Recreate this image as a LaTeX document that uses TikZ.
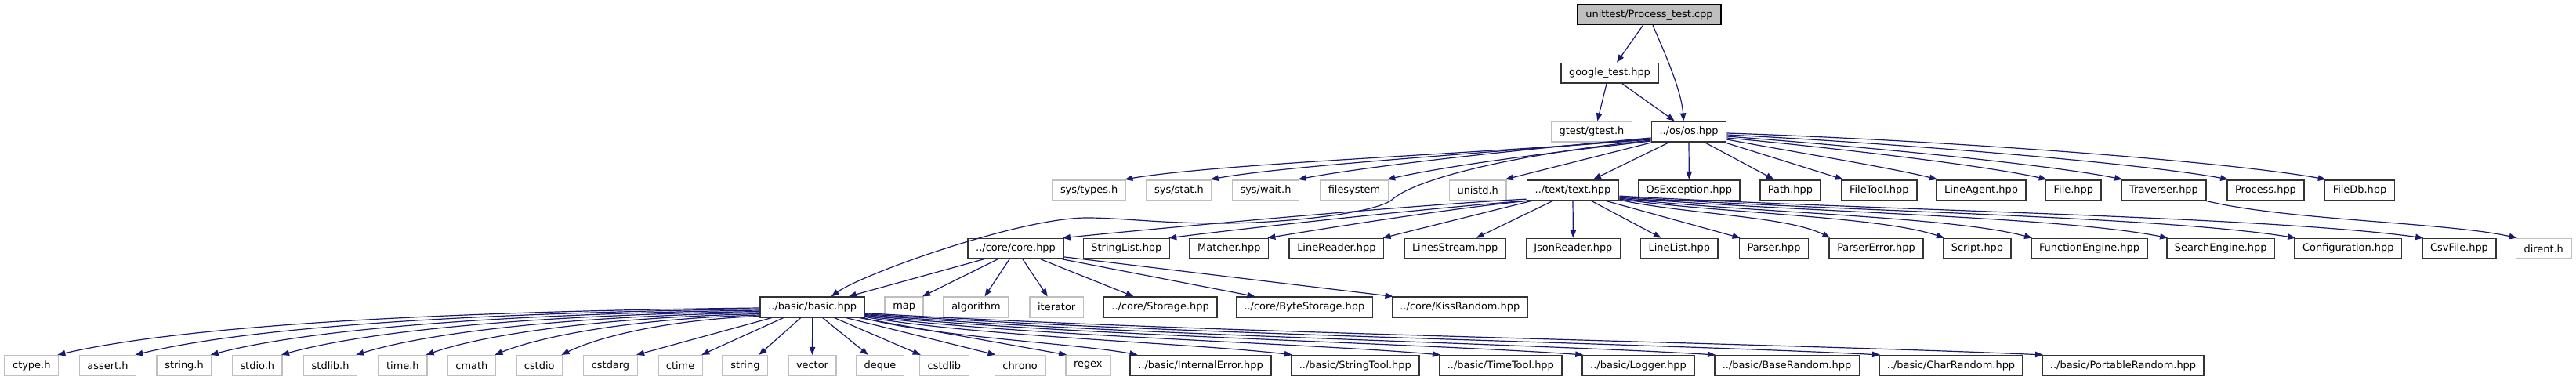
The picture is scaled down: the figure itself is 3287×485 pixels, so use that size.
\documentclass[tikz,border=0pt]{standalone}
\usepackage{fontspec}
\setmainfont{DejaVu Sans}
\usetikzlibrary{arrows.meta}
\definecolor{edgecol}{HTML}{191970}
\definecolor{docb}{HTML}{333333}
\definecolor{undocb}{HTML}{BFBFBF}
\definecolor{rootfill}{HTML}{BFBFBF}
\newcommand{\nd}[5]{\node[#1] (#2) at (#3,#4) {#5};}
\begin{document}
\begin{tikzpicture}[x=0.75pt,y=-0.75pt,
  nbase/.style={font=\fontsize{9.7pt}{11.6pt}\selectfont, inner xsep=7.6pt, inner ysep=0pt, minimum height=19.2pt, line width=1.2pt, text=black},
  doc/.style={nbase, draw=docb, fill=white},
  sys/.style={nbase, draw=undocb, fill=white},
  rootn/.style={nbase, draw=black, fill=rootfill},
  dep/.style={draw=edgecol, line width=0.9pt, -{Triangle[length=7.5pt,width=5.6pt]}}]
\useasboundingbox (0,0) rectangle (3287,485);
% row 0-2
\nd{rootn}{root}{2104.5}{18.7}{unittest/Process\_test.cpp}
\nd{doc}{google}{2054}{93.3}{google\_test.hpp}
\nd{sys}{gtest}{2031}{168}{gtest/gtest.h}
\nd{doc}{os}{2155}{168}{../os/os.hpp}
% row 3
\nd{sys}{systypes}{1389.7}{242.5}{sys/types.h}
\nd{sys}{sysstat}{1504.5}{242.5}{sys/stat.h}
\nd{sys}{syswait}{1615}{242.5}{sys/wait.h}
\nd{sys}{filesys}{1728}{242.5}{filesystem}
\nd{sys}{unistd}{1885.7}{242.5}{unistd.h}
\nd{doc}{text}{2007}{242.5}{../text/text.hpp}
\nd{doc}{osexc}{2155.3}{242.5}{OsException.hpp}
\nd{doc}{path}{2284.5}{242.5}{Path.hpp}
\nd{doc}{filetool}{2397.8}{242.5}{FileTool.hpp}
\nd{doc}{lineagent}{2528}{242.5}{LineAgent.hpp}
\nd{doc}{file}{2645.8}{242.5}{File.hpp}
\nd{doc}{traverser}{2761}{242.5}{Traverser.hpp}
\nd{doc}{process}{2891}{242.5}{Process.hpp}
\nd{doc}{filedb}{3011}{242.5}{FileDb.hpp}
% row 4
\nd{doc}{core}{1296}{317.3}{../core/core.hpp}
\nd{doc}{stringlist}{1437.4}{317.3}{StringList.hpp}
\nd{doc}{matcher}{1568.3}{317.3}{Matcher.hpp}
\nd{doc}{linereader}{1705.4}{317.3}{LineReader.hpp}
\nd{doc}{linesstream}{1856.6}{317.3}{LinesStream.hpp}
\nd{doc}{json}{2007.4}{317.3}{JsonReader.hpp}
\nd{doc}{linelist}{2142.8}{317.3}{LineList.hpp}
\nd{doc}{parser}{2263.5}{317.3}{Parser.hpp}
\nd{doc}{parsererror}{2394}{317.3}{ParserError.hpp}
\nd{doc}{script}{2523}{317.3}{Script.hpp}
\nd{doc}{funceng}{2666}{317.3}{FunctionEngine.hpp}
\nd{doc}{searcheng}{2833.7}{317.3}{SearchEngine.hpp}
\nd{doc}{config}{2996.3}{317.3}{Configuration.hpp}
\nd{doc}{csvfile}{3138}{317.3}{CsvFile.hpp}
\nd{sys}{dirent}{3245.7}{317.3}{dirent.h}
% row 5
\nd{doc}{basic}{1036.7}{392}{../basic/basic.hpp}
\nd{sys}{map}{1153.7}{392}{map}
\nd{sys}{algorithm}{1245.5}{392}{algorithm}
\nd{sys}{iterator}{1348.2}{392}{iterator}
\nd{doc}{storage}{1480.6}{392}{../core/Storage.hpp}
\nd{doc}{bytestorage}{1664.4}{392}{../core/ByteStorage.hpp}
\nd{doc}{kissrandom}{1862.8}{392}{../core/KissRandom.hpp}
% row 6
\nd{sys}{ctype}{40.3}{466.5}{ctype.h}
\nd{sys}{assert}{137.5}{466.5}{assert.h}
\nd{sys}{stringh}{235}{466.5}{string.h}
\nd{sys}{stdio}{328.3}{466.5}{stdio.h}
\nd{sys}{stdlib}{421.6}{466.5}{stdlib.h}
\nd{sys}{timeh}{513.9}{466.5}{time.h}
\nd{sys}{cmath}{601.9}{466.5}{cmath}
\nd{sys}{cstdio}{688.2}{466.5}{cstdio}
\nd{sys}{cstdarg}{779}{466.5}{cstdarg}
\nd{sys}{ctime}{868.1}{466.5}{ctime}
\nd{sys}{string}{950.9}{466.5}{string}
\nd{sys}{vector}{1036.5}{466.5}{vector}
\nd{sys}{deque}{1123}{466.5}{deque}
\nd{sys}{cstdlib}{1204.9}{466.5}{cstdlib}
\nd{sys}{chrono}{1301.6}{466.5}{chrono}
\nd{sys}{regex}{1388.3}{466.5}{regex}
\nd{doc}{internalerror}{1532.1}{466.5}{../basic/InternalError.hpp}
\nd{doc}{stringtool}{1729.3}{466.5}{../basic/StringTool.hpp}
\nd{doc}{timetool}{1914.8}{466.5}{../basic/TimeTool.hpp}
\nd{doc}{logger}{2090.5}{466.5}{../basic/Logger.hpp}
\nd{doc}{baserandom}{2280}{466.5}{../basic/BaseRandom.hpp}
\nd{doc}{charrandom}{2489.5}{466.5}{../basic/CharRandom.hpp}
\nd{doc}{portable}{2709}{466.5}{../basic/PortableRandom.hpp}
% ---- edges: top
\draw[dep] ([shift={(-8,0)}]root.south) -- ([shift={(9,0)}]google.north);
\draw[dep] ([shift={(4.5,0)}]root.south) .. controls +(15,35) and +(-3,-40) .. ([shift={(-6.7,0)}]os.north);
\draw[dep] ([shift={(-4,0)}]google.south) -- ([shift={(7.3,0)}]gtest.north);
\draw[dep] ([shift={(16,0)}]google.south) -- ([shift={(-18.3,0)}]os.north);
% ---- os fan
\draw[dep] ([shift={(0,10)}]os.west) .. controls +(-250,20) and +(120,-20) .. ([shift={(-2,0)}]systypes.north east);
\draw[dep] ([shift={(0,9)}]os.west) .. controls +(-200,18) and +(100,-18) .. ([shift={(-2,0)}]sysstat.north east);
\draw[dep] ([shift={(0,8)}]os.west) .. controls +(-170,15) and +(90,-17) .. ([shift={(-2,0)}]syswait.north east);
\draw[dep] ([shift={(0,12)}]os.west) .. controls +(-130,15) and +(80,-18) .. ([shift={(-2,0)}]filesys.north east);
\draw[dep] ([shift={(2,0)}]os.south west) -- ([shift={(-2,0)}]unistd.north east);
\draw[dep] ([shift={(0,11)}]os.west) .. controls (1950,195) and (1810,225) .. (1776,255)
  .. controls (1755,272) and (1640,285) .. (1557,285)
  .. controls (1480,285) and (1430,278) .. (1387,278)
  .. controls (1300,278) and (1100,350) .. ([shift={(24,0)}]basic.north);
\draw[dep] ([shift={(-25,0)}]os.south) -- ([shift={(26,0)}]text.north);
\draw[dep] (os.south) -- (osexc.north);
\draw[dep] ([shift={(20,0)}]os.south) -- ([shift={(-21,0)}]path.north);
\draw[dep] ([shift={(45,0)}]os.south) -- ([shift={(-46,0)}]filetool.north);
\draw[dep] ([shift={(0,10)}]os.east) .. controls +(80,15) and +(-60,-15) .. ([shift={(2,0)}]lineagent.north west);
\draw[dep] ([shift={(0,8)}]os.east) .. controls +(130,12) and +(-80,-18) .. ([shift={(2,0)}]file.north west);
\draw[dep] ([shift={(0,6)}]os.east) .. controls +(160,12) and +(-100,-20) .. ([shift={(2,0)}]traverser.north west);
\draw[dep] ([shift={(0,4)}]os.east) .. controls +(200,10) and +(-120,-22) .. ([shift={(2,0)}]process.north west);
\draw[dep] ([shift={(0,2)}]os.east) .. controls +(250,8) and +(-140,-25) .. ([shift={(2,0)}]filedb.north west);
\draw[dep] ([shift={(-2,0)}]traverser.south east) .. controls +(100,25) and +(-90,-20) .. ([shift={(2,0)}]dirent.north west);
% ---- text fan
\draw[dep] ([shift={(0,-2)}]text.south west) .. controls +(-150,8) and +(150,-15) .. ([shift={(-2,0)}]core.north east);
\draw[dep] ([shift={(2,0)}]text.south west) .. controls +(-130,10) and +(120,-15) .. ([shift={(-2,0)}]stringlist.north east);
\draw[dep] ([shift={(4,0)}]text.south west) .. controls +(-100,10) and +(90,-15) .. ([shift={(-2,0)}]matcher.north east);
\draw[dep] ([shift={(8,0)}]text.south west) -- ([shift={(-2,0)}]linereader.north east);
\draw[dep] ([shift={(-25,0)}]text.south) -- ([shift={(27,0)}]linesstream.north);
\draw[dep] (text.south) -- (json.north);
\draw[dep] ([shift={(23,0)}]text.south) -- ([shift={(-23,0)}]linelist.north);
\draw[dep] ([shift={(41,0)}]text.south) -- ([shift={(2,0)}]parser.north west);
\draw[dep] ([shift={(0,-1)}]text.south east) .. controls +(81,18) and +(-54,-28) .. ([shift={(2,0)}]parsererror.north west);
\draw[dep] ([shift={(0,-2)}]text.south east) .. controls +(125,18) and +(-83,-28) .. ([shift={(2,0)}]script.north west);
\draw[dep] ([shift={(0,-3)}]text.south east) .. controls +(158,18) and +(-106,-28) .. ([shift={(2,0)}]funceng.north west);
\draw[dep] ([shift={(0,-4)}]text.south east) .. controls +(210,18) and +(-140,-28) .. ([shift={(2,0)}]searcheng.north west);
\draw[dep] ([shift={(0,-5)}]text.south east) .. controls +(259,18) and +(-173,-28) .. ([shift={(2,0)}]config.north west);
\draw[dep] ([shift={(0,-6)}]text.south east) .. controls +(308,18) and +(-205,-28) .. ([shift={(2,0)}]csvfile.north west);
% ---- core fan
\draw[dep] ([shift={(-41,0)}]core.south) -- ([shift={(46,0)}]basic.north);
\draw[dep] ([shift={(-23,0)}]core.south) -- ([shift={(-2,0)}]map.north east);
\draw[dep] ([shift={(-8,0)}]core.south) -- ([shift={(11,0)}]algorithm.north);
\draw[dep] ([shift={(9,0)}]core.south) -- ([shift={(-11.5,0)}]iterator.north);
\draw[dep] ([shift={(32,0)}]core.south) -- ([shift={(-34,0)}]storage.north);
\draw[dep] ([shift={(-2,0)}]core.south east) -- ([shift={(-63,0)}]bytestorage.north);
\draw[dep] ([shift={(0,-3)}]core.south east) -- ([shift={(2,0)}]kissrandom.north west);
% ---- basic fan
\draw[dep] ([shift={(0,1)}]basic.west) .. controls +(-447,5) and +(152,-35) .. ([shift={(-2,0)}]ctype.north east);
\draw[dep] ([shift={(0,2.5)}]basic.west) .. controls +(-398,5) and +(135,-33) .. ([shift={(-2,0)}]assert.north east);
\draw[dep] ([shift={(0,4)}]basic.west) .. controls +(-350,5) and +(119,-31) .. ([shift={(-2,0)}]stringh.north east);
\draw[dep] ([shift={(0,5.5)}]basic.west) .. controls +(-305,5) and +(104,-29) .. ([shift={(-2,0)}]stdio.north east);
\draw[dep] ([shift={(0,7)}]basic.west) .. controls +(-257,5) and +(87,-27) .. ([shift={(-2,0)}]stdlib.north east);
\draw[dep] ([shift={(0,8.5)}]basic.west) .. controls +(-212,5) and +(72,-25) .. ([shift={(-2,0)}]timeh.north east);
\draw[dep] ([shift={(0,10)}]basic.west) .. controls +(-169,5) and +(57,-23) .. ([shift={(-2,0)}]cmath.north east);
\draw[dep] ([shift={(0,11.5)}]basic.west) .. controls +(-126,5) and +(43,-21) .. ([shift={(-2,0)}]cstdio.north east);
\draw[dep] ([shift={(-52,0)}]basic.south) -- ([shift={(-2,0)}]cstdarg.north east);
\draw[dep] ([shift={(-37,0)}]basic.south) -- ([shift={(-2,0)}]ctime.north east);
\draw[dep] ([shift={(-15,0)}]basic.south) -- ([shift={(-12,0)}]string.north east);
\draw[dep] (basic.south) -- (vector.north);
\draw[dep] ([shift={(13,0)}]basic.south) -- ([shift={(16,0)}]deque.north west);
\draw[dep] ([shift={(28,0)}]basic.south) -- ([shift={(2,0)}]cstdlib.north west);
\draw[dep] ([shift={(43,0)}]basic.south) -- ([shift={(2,0)}]chrono.north west);
\draw[dep] ([shift={(60,0)}]basic.south) -- ([shift={(2,0)}]regex.north west);
\draw[dep] ([shift={(-3,0)}]basic.south east) .. controls +(93,25) and +(-80,-15) .. ([shift={(10,0)}]internalerror.north west);
\draw[dep] ([shift={(0,-1)}]basic.south east) .. controls +(147,25) and +(-126,-15) .. ([shift={(2,0)}]stringtool.north west);
\draw[dep] ([shift={(0,-2)}]basic.south east) .. controls +(198,25) and +(-169,-15) .. ([shift={(2,0)}]timetool.north west);
\draw[dep] ([shift={(0,-3)}]basic.south east) .. controls +(248,25) and +(-211,-15) .. ([shift={(2,0)}]logger.north west);
\draw[dep] ([shift={(0,-4)}]basic.south east) .. controls +(293,25) and +(-250,-15) .. ([shift={(2,0)}]baserandom.north west);
\draw[dep] ([shift={(0,-5)}]basic.south east) .. controls +(350,25) and +(-298,-15) .. ([shift={(2,0)}]charrandom.north west);
\draw[dep] ([shift={(0,-6)}]basic.south east) .. controls +(406,25) and +(-346,-15) .. ([shift={(2,0)}]portable.north west);
\end{tikzpicture}
\end{document}
